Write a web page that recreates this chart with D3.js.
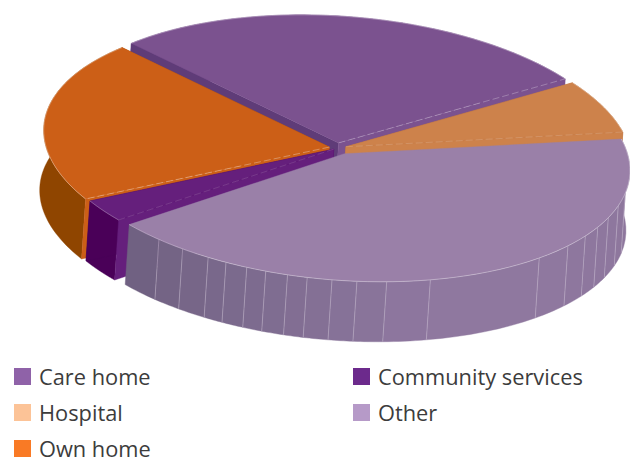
<!DOCTYPE html>
<html>
<head>
<meta charset="utf-8">
<script src="https://cdn.jsdelivr.net/npm/d3@7"></script>
<style>
  html, body { margin: 0; padding: 0; background: #fff; }
  svg { display: block; }
</style>
</head>
<body>
<svg id="chart" width="630" height="461"></svg>
<script>
// Place of death shares, in percent
const categories = ["Care home", "Hospital", "Other", "Community services", "Own home"];
const shares = [27.5, 6.5, 42.5, 2.7, 20.8];

const legendOrder = ["Care home", "Community services", "Hospital", "Other", "Own home"];
const legendColours = ["#8f62a8", "#6c2a8c", "#fcc397", "#b69ac8", "#f97a25"];

// Shaded surfaces of each slice, in the order of `categories`
const topColours = ["#7b528f", "#cd824b", "#9a80a8", "#651f7c", "#cc5f17"];
const litCutColours = ["#7b528f", "#cd824b", "#9a80a8", "#651f7c", "#cc5f17"];
const darkCutColours = ["#5f3c78", "#b97340", "#8a7199", "#4a0058", "#a85010"];
const rimColours = ["#6a4580", "#b06c38", "#8a7399", "#4a0058", "#8f4500"];
const seamOpacity = [0.35, 0.2, 0, 0.18, 0.4];
const explode = [0.04, 0.03, 0.047, 0.018, 0.03];

// Facet seams around the front of the largest slice, in degrees clockwise from the back
const facetSeams = [108, 114, 120, 125, 130, 136, 144.5, 170, 179, 185, 190, 195, 199,
  203.5, 207.5, 212, 216, 222, 228];

const svg = d3.select("#chart");
const deg = Math.PI / 180;

// Oblique view of the pie's ground plane
const view = { cx: 338, cy: 148, a: 287.5, b: -38, d: 130, radius: 0.985, dx: -4, dy: 60 };
const project = (angle, r) => {
  const u = Math.sin(angle) * r, v = Math.cos(angle) * r;
  return [view.cx + view.a * u + view.b * v, view.cy - view.d * v];
};
const lineGen = d3.line();

const arcs = d3.pie().sort(null).value(d => d)
  .startAngle(-39 * deg).endAngle(321 * deg)(shares);

const slices = arcs.map((arc, i) => {
  const mid = (arc.startAngle + arc.endAngle) / 2;
  const apex = project(mid, explode[i]);
  const place = (angle, r) => {
    const p = project(angle, r);
    return [p[0] - view.cx + apex[0], p[1] - view.cy + apex[1]];
  };
  const rimPoints = d3.range(0, 61).map(k =>
    place(arc.startAngle + (arc.endAngle - arc.startAngle) * k / 60, view.radius));
  return { i, arc, mid, apex, place, rimPoints };
});

const drop = p => [p[0] + view.dx, p[1] + view.dy];

function drawWall(g, a, b, colour) {
  g.append("path").attr("d", lineGen([a, b, drop(b), drop(a)]) + "Z")
    .attr("fill", colour).attr("stroke", colour).attr("stroke-width", 0.4);
}

// Rim colour of the big slice darkens towards its left end
const otherRim = d3.scaleLinear()
  .domain([100 * deg, 170 * deg, 236 * deg])
  .range(["#8e779d", "#8f78a0", "#6e6080"]);

function drawSlice(s) {
  const g = svg.append("g").attr("class", "slice").attr("data-name", categories[s.i]);
  const first = s.rimPoints[0], last = s.rimPoints[s.rimPoints.length - 1];
  const isOther = categories[s.i] === "Other";

  // outer rim
  const rimBase = s.rimPoints.slice().reverse().map(drop);
  if (isOther) {
    const edges = [s.arc.startAngle / deg, ...facetSeams, s.arc.endAngle / deg];
    d3.pairs(edges).forEach(([a0, a1]) => {
      const pts = d3.range(0, 9).map(k => s.place((a0 + (a1 - a0) * k / 8) * deg, view.radius));
      const col = otherRim((a0 + a1) / 2 * deg);
      g.append("path").attr("d", lineGen([...pts, ...pts.slice().reverse().map(drop)]) + "Z")
        .attr("fill", col).attr("stroke", col).attr("stroke-width", 0.4);
    });
    facetSeams.forEach(a => {
      const p = s.place(a * deg, view.radius);
      g.append("path").attr("d", lineGen([p, drop(p)]))
        .attr("stroke", "#cfc3d6").attr("stroke-opacity", 0.55).attr("stroke-width", 0.8).attr("fill", "none");
    });
  } else {
    g.append("path").attr("d", lineGen([...s.rimPoints, ...rimBase]) + "Z")
      .attr("fill", rimColours[s.i]).attr("stroke", rimColours[s.i]).attr("stroke-width", 0.4);
  }

  // cut faces: the big front slice hides both of its own
  const litEnd = s.mid > Math.PI ? first : last;
  const darkEnd = s.mid > Math.PI ? last : first;
  if (!isOther) {
    drawWall(g, s.apex, darkEnd, darkCutColours[s.i]);
    drawWall(g, s.apex, litEnd, litCutColours[s.i]);
  }

  // top surface and its pale seams
  g.append("path").attr("d", lineGen([s.apex, ...s.rimPoints]) + "Z")
    .attr("fill", topColours[s.i]).attr("stroke", topColours[s.i]).attr("stroke-width", 0.4);
  g.append("path").attr("d", lineGen(s.rimPoints))
    .attr("fill", "none").attr("stroke", "#fff").attr("stroke-opacity", 0.4).attr("stroke-width", 0.8);
  g.append("path").attr("d", lineGen([s.apex, litEnd]))
    .attr("fill", "none").attr("stroke", "#fff").attr("stroke-opacity", seamOpacity[s.i])
    .attr("stroke-width", 0.8).attr("stroke-dasharray", "7 3");
}

// Painter's order: back slices first
["Care home", "Own home", "Hospital", "Community services", "Other"]
  .forEach(name => drawSlice(slices[categories.indexOf(name)]));

// Legend, two columns filled row by row
const legendX = d3.scaleOrdinal().domain([0, 1]).range([14, 353]);
const legendY = d3.scalePoint().domain([0, 1, 2]).range([377, 449]);
const legend = svg.append("g").attr("class", "legend");
legendOrder.forEach((name, i) => {
  const col = i % 2, row = Math.floor(i / 2);
  const x = legendX(col), y = legendY(row);
  legend.append("rect").attr("x", x).attr("y", y - 9).attr("width", 17).attr("height", 17)
    .attr("fill", legendColours[i]);
  legend.append("text").attr("x", x + 25).attr("y", y + 7.5)
    .attr("font-family", "'Open Sans', sans-serif").attr("font-size", 21.8)
    .attr("fill", "#3c3c3c").text(name);
});
</script>
</body>
</html>
